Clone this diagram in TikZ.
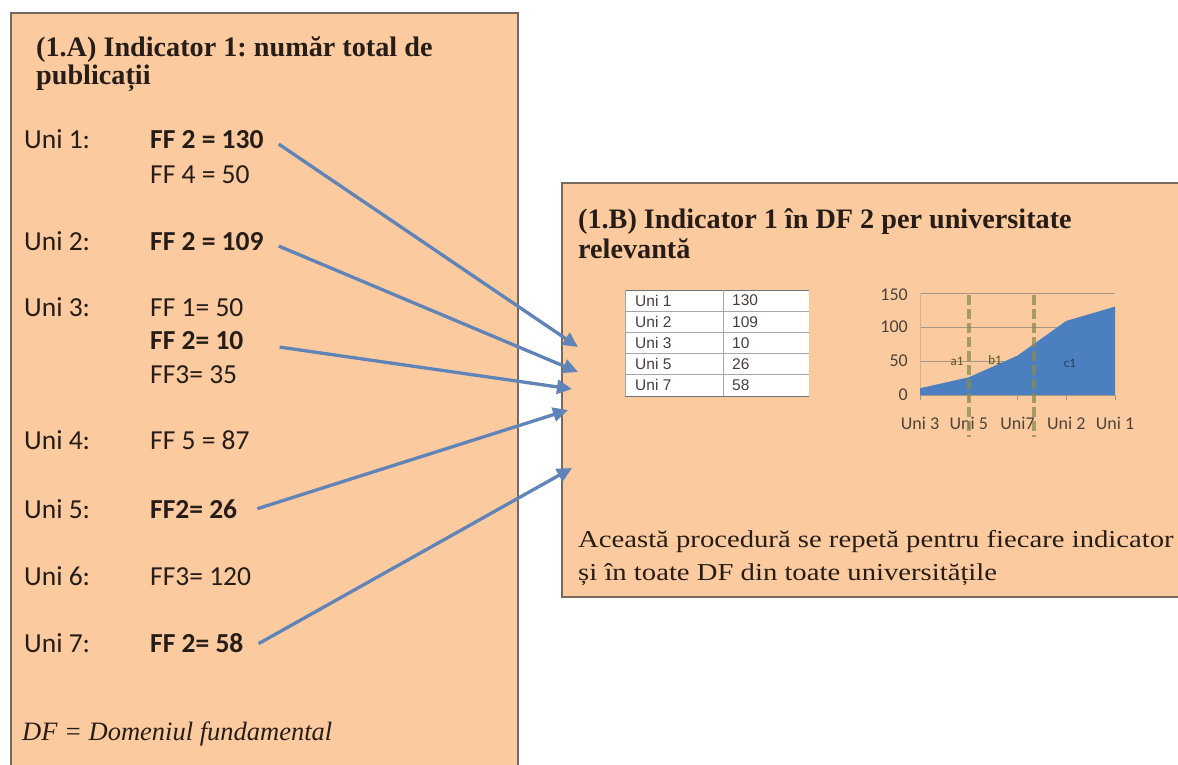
\documentclass[tikz,border=0pt]{standalone}
\usepackage{fontspec}
\usepackage{tikz}
\usepackage{xcolor}
\usetikzlibrary{arrows.meta,positioning}
\setmainfont{Liberation Serif}
\newfontfamily\cambria[FakeStretch=1.18]{Liberation Serif}
\newfontfamily\calibri{Carlito}
\newfontfamily\arialf{Liberation Sans}
\frenchspacing
\definecolor{peach}{RGB}{251,203,159}
\definecolor{edge}{RGB}{118,106,96}
\definecolor{ink}{RGB}{38,28,24}
\definecolor{arrowblue}{RGB}{96,131,184}
\definecolor{areablue}{RGB}{76,127,192}
\definecolor{gridc}{RGB}{168,150,132}
\definecolor{olive}{RGB}{138,140,78}
\definecolor{axistext}{RGB}{78,66,58}
\tikzset{
panel/.style={draw=edge,line width=1.5pt},
ttl/.style={anchor=base west,inner sep=0pt,text=ink,font=\fontsize{28.2}{30}\selectfont\bfseries},
lbl/.style={anchor=base west,inner sep=0pt,text=ink,font=\calibri\fontsize{27.5}{30}\selectfont},
valb/.style={lbl,font=\calibri\fontsize{27.5}{30}\selectfont\bfseries},
note/.style={anchor=base west,inner sep=0pt,text=ink,font=\cambria\fontsize{24.3}{30}\selectfont},
arr/.style={draw=arrowblue,line width=3.3pt,-{Triangle[length=15pt,width=14pt]}},
tline/.style={draw=gray!70,line width=0.8pt},
tcell/.style={anchor=west,inner sep=0pt,text=ink!85,font=\arialf\fontsize{15.5}{17}\selectfont},
axl/.style={inner sep=0pt,text=axistext,font=\calibri\fontsize{18}{19}\selectfont},
cut/.style={draw=olive,opacity=0.75,line width=3.5pt,dash pattern=on 10pt off 4pt}
}
\begin{document}
\begin{tikzpicture}[x=1pt,y=-1pt]
\useasboundingbox (0,0) rectangle (1178,765);
\fill[white] (0,0) rectangle (1178,765);
\fill[peach] (11,13) rectangle (518,775);
\draw[panel] (11,775) -- (11,13) -- (518,13) -- (518,775);
\fill[peach] (562,183) rectangle (1185,597);
\draw[panel] (1185,183) -- (562,183) -- (562,597) -- (1185,597);
\node[ttl] (ta1) at (36,57) {(1.A) Indicator 1: număr total de};
\node[ttl] (ta2) at (36,85) {publicații};
\node[lbl] (u1) at (24,149) {Uni 1:};
\node[valb] (f1) at (150,149) {FF 2 = 130};
\node[lbl] (g1) at (150,183) {FF 4 = 50};
\node[lbl] (u2) at (24,250) {Uni 2:};
\node[valb] (f2) at (150,250) {FF 2 = 109};
\node[lbl] (u3) at (24,316) {Uni 3:};
\node[lbl] (g3) at (150,316) {FF 1= 50};
\node[valb] (f3) at (150,349) {FF 2= 10};
\node[lbl] (h3) at (150,383) {FF3= 35};
\node[lbl] (u4) at (24,449) {Uni 4:};
\node[lbl] (g4) at (150,449) {FF 5 = 87};
\node[lbl] (u5) at (24,518) {Uni 5:};
\node[valb] (f5) at (150,518) {FF2= 26};
\node[lbl] (u6) at (24,585) {Uni 6:};
\node[lbl] (g6) at (150,585) {FF3= 120};
\node[lbl] (u7) at (24,652) {Uni 7:};
\node[valb] (f7) at (150,652) {FF 2= 58};
\node[anchor=base west,inner sep=0pt,text=ink,font=\fontsize{26.5}{30}\selectfont\itshape] (df) at (22,740) {DF = Domeniul fundamental};
\node[ttl] (tb1) at (578,228) {(1.B) Indicator 1 în DF 2 per universitate};
\node[ttl] (tb2) at (578,258) {relevantă};
\coordinate (t1) at (578,347);
\coordinate (t2) at (578,372);
\coordinate (t3) at (572,389);
\coordinate (t5) at (568,410);
\coordinate (t7) at (572,468);
\draw[arr] ([xshift=15pt,yshift=-4pt]f1.east) -- (t1);
\draw[arr] ([xshift=15pt,yshift=-5pt]f2.east) -- (t2);
\draw[arr] ([xshift=36pt,yshift=-7pt]f3.east) -- (t3);
\draw[arr] ([xshift=20pt]f5.east) -- (t5);
\draw[arr] ([xshift=15pt,yshift=-1pt]f7.east) -- (t7);
\fill[white] (625,290) rectangle (809,396);
\draw[tline] (625,311.2) -- (809,311.2);
\draw[tline] (625,332.4) -- (809,332.4);
\draw[tline] (625,353.6) -- (809,353.6);
\draw[tline] (625,374.8) -- (809,374.8);
\draw[tline,draw=gray!90!black] (625,290) -- (809,290);
\draw[tline,draw=gray!90!black] (625,396) -- (809,396);
\draw[tline] (625,290) -- (625,396);
\draw[tline] (723,290) -- (723,396);
\node[tcell] (tu1) at (635,300.6) {Uni 1};
\node[tcell] (tv1) at (732,300.6) {130};
\node[tcell] (tu2) at (635,321.8) {Uni 2};
\node[tcell] (tv2) at (732,321.8) {109};
\node[tcell] (tu3) at (635,343) {Uni 3};
\node[tcell] (tv3) at (732,343) {10};
\node[tcell] (tu4) at (635,364.2) {Uni 5};
\node[tcell] (tv4) at (732,364.2) {26};
\node[tcell] (tu5) at (635,385.4) {Uni 7};
\node[tcell] (tv5) at (732,385.4) {58};
\draw[gridc,line width=0.8pt] (920,293) -- (1115,293);
\draw[gridc,line width=0.8pt] (920,327) -- (1115,327);
\draw[gridc,line width=0.8pt] (920,361) -- (1115,361);
\draw[gridc!70,line width=0.6pt] (920,293) -- (920,395);
\fill[areablue] (920,395) -- (920,388.2) -- (968.75,377.3) -- (1017.5,355.6) -- (1066.25,320.9) -- (1115,306.6) -- (1115,395) -- cycle;
\draw[gridc,line width=0.8pt] (920,395) -- (1115,395);
\draw[gridc,line width=0.8pt] (920,395) -- (920,400);
\draw[gridc,line width=0.8pt] (968.75,395) -- (968.75,400);
\draw[gridc,line width=0.8pt] (1017.5,395) -- (1017.5,400);
\draw[gridc,line width=0.8pt] (1066.25,395) -- (1066.25,400);
\draw[gridc,line width=0.8pt] (1115,395) -- (1115,400);
\node[axl,anchor=east] (y150) at (908,295) {150};
\node[axl,anchor=east] (y100) at (908,327) {100};
\node[axl,anchor=east] (y50) at (908,361) {50};
\node[axl,anchor=east] (y0) at (908,395) {0};
\node[axl] (x1) at (920,423) {Uni 3};
\node[axl] (x2) at (968.75,423) {Uni 5};
\node[axl] (x3) at (1017.5,423) {Uni7};
\node[axl] (x4) at (1066.25,423) {Uni 2};
\node[axl] (x5) at (1115,423) {Uni 1};
\draw[cut] (969,295) -- (969,437);
\draw[cut] (1034,295) -- (1034,437);
\node[axl,font=\calibri\fontsize{13}{15}\selectfont,text=olive!60!black] (ra) at (957,361) {a1};
\node[axl,font=\calibri\fontsize{13}{15}\selectfont,text=olive!60!black] (rb) at (995,360) {b1};
\node[axl,font=\calibri\fontsize{13}{15}\selectfont,text=areablue!50!black] (rc) at (1070,363) {c1};
\node[note] (n1) at (578,547) {Această procedură se repetă pentru fiecare indicator};
\node[note] (n2) at (578,580) {și în toate DF din toate universitățile};
\end{tikzpicture}
\end{document}
